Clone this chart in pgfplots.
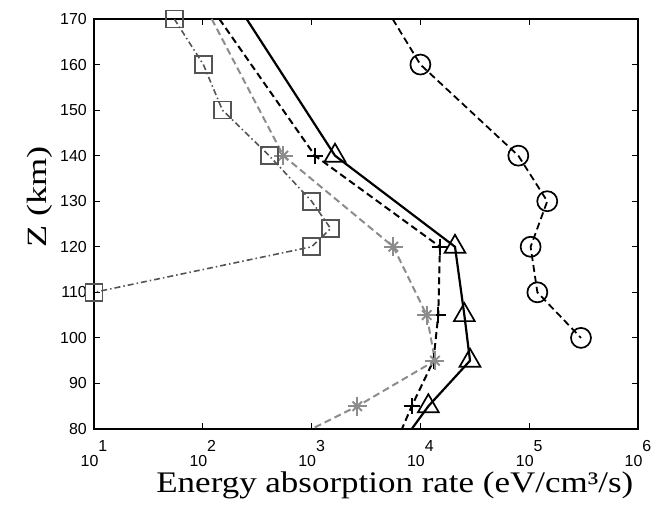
\documentclass[border=0pt]{standalone}
\usepackage{fontspec}
\setmainfont{Liberation Serif}
\setsansfont{Liberation Sans}
\usepackage{pgfplots}
\pgfplotsset{compat=1.18}
\definecolor{sqgray}{gray}{0.33}
\definecolor{stgray}{gray}{0.55}

% MATLAB-style decade label: exponent raised after the base
\newcommand{\tl}[1]{10\raisebox{0.95em}{#1}}

\begin{document}
\begin{tikzpicture}
\path[use as bounding box] (0,0) rectangle (660bp,512bp);
\begin{axis}[
  at={(94bp,83bp)}, anchor=south west,
  scale only axis, width=544bp, height=410bp,
  xmode=log, xmin=10, xmax=1e6, ymin=80, ymax=170,
  xtick={10,100,1000,10000,100000,1000000},
  xticklabels={\tl{1},\tl{2},\tl{3},\tl{4},\tl{5},\tl{6}},
  xminorticks=false,
  ytick={80,90,...,170},
  tick align=inside, tick pos=both,
  major tick length=6bp,
  every tick/.style={black, line width=1.2bp},
  axis line style={line width=1.6bp},
  tick label style={font=\sffamily\fontsize{16}{16}\selectfont, inner sep=0pt},
  /pgf/number format/assume math mode=true,
  xticklabel style={anchor=north, yshift=-11bp},
  yticklabel style={anchor=east, xshift=-7bp},
  clip=false,
  xlabel={\scalebox{1.17}[1]{\fontsize{30}{30}\selectfont Energy absorption rate (eV/cm³/s)}},
  ylabel={\scalebox{1.3}[1]{\fontsize{28}{28}\selectfont Z (km)}},
  xlabel style={at={(axis description cs:0.553,-0.1366)}, anchor=center},
  ylabel style={at={(axis description cs:-0.1,0.566)}, anchor=center},
]
% circles, black dashed
\addplot[black, line width=1.8bp, dash pattern=on 7bp off 4bp]
  coordinates {(5559,170) (10000,160) (79433,140) (146555,130) (103039,120) (118850,110) (299226,100)};
\addplot[black, only marks, mark=o, mark size=10bp, line width=1.7bp]
  coordinates {(10000,160) (79433,140) (146555,130) (103039,120) (118850,110) (299226,100)};
% triangles, black solid
\addplot[black, line width=2.2bp]
  coordinates {(252.9,170) (1641,140) (20797,120) (25351,105) (28576,95) (11830,85) (8318,80)};
\addplot[black, only marks, mark=triangle, mark size=12bp, line width=1.7bp]
  coordinates {(1641,140) (20797,120) (25351,105) (28576,95) (11830,85)};
% plus, black dashed
\addplot[black, line width=2bp, dash pattern=on 7bp off 4bp]
  coordinates {(141.9,170) (1074,140) (15136,120) (14588,105) (13183,95) (8318,85) (6761,80)};
\addplot[black, only marks, mark=+, mark size=8bp, line width=1.7bp]
  coordinates {(1074,140) (15136,120) (14588,105) (13183,95) (8318,85)};
% asterisks, gray dashed
\addplot[stgray, line width=2bp, dash pattern=on 7bp off 4bp]
  coordinates {(120.8,170) (549.5,140) (5636,120) (11429,105) (13614,95) (2630,85) (1000,80)};
\addplot[stgray, only marks, mark=+, mark size=9.5bp, line width=1.9bp]
  coordinates {(549.5,140) (5636,120) (11429,105) (13614,95) (2630,85)};
\addplot[stgray, only marks, mark=x, mark size=6.7bp, line width=1.9bp]
  coordinates {(549.5,140) (5636,120) (11429,105) (13614,95) (2630,85)};
% squares, gray dash-dot
\addplot[sqgray, line width=1.6bp, dash pattern=on 6bp off 3bp on 1.5bp off 3bp,
  mark=square, mark size=8.5bp, mark options={solid, line width=1.7bp}]
  coordinates {(54.7,170) (101.2,160) (151.4,150) (407.4,140) (1000,130) (1496,124) (1000,120) (10,110)};
\end{axis}
\end{tikzpicture}
\end{document}
